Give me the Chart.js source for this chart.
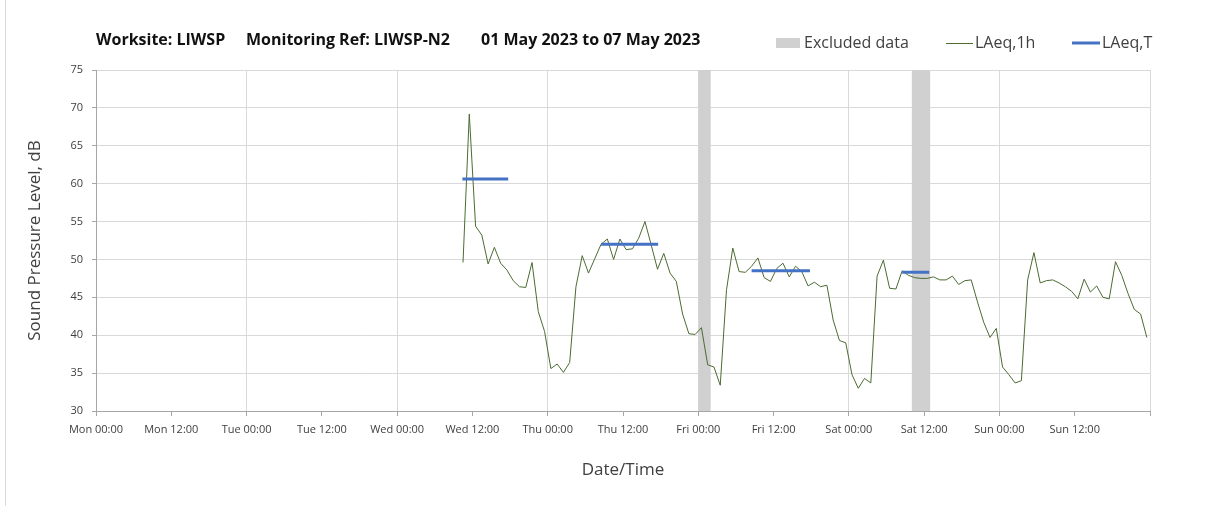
<!DOCTYPE html>
<html>
<head>
<meta charset="utf-8">
<script src="https://cdn.jsdelivr.net/npm/chart.js@4/dist/chart.umd.min.js"></script>
<style>
  html, body { margin: 0; padding: 0; background: #ffffff; }
  #wrap { position: relative; width: 1208px; height: 506px; }
  #edge { position: absolute; left: 5px; top: 0; width: 1px; height: 506px; background: #d9d9d9; }
  canvas { position: absolute; left: 0; top: 0; }
</style>
</head>
<body>
<div id="wrap">
  <canvas id="c" width="1208" height="506"></canvas>
  <div id="edge"></div>
</div>
<script>
// ---- Data ----
const titleParts = ['Worksite: LIWSP', 'Monitoring Ref: LIWSP-N2', '01 May 2023 to 07 May 2023'];
const xTickLabels = ['Mon 00:00', 'Mon 12:00', 'Tue 00:00', 'Tue 12:00', 'Wed 00:00', 'Wed 12:00',
  'Thu 00:00', 'Thu 12:00', 'Fri 00:00', 'Fri 12:00', 'Sat 00:00', 'Sat 12:00', 'Sun 00:00', 'Sun 12:00'];
const xMinHour = 0;
const xMaxHour = 168;
const yMin = 30;
const yMax = 75;

// LAeq,1h hourly values (hours from Mon 00:00), first point at hour 58.5
const lAeq1hStartHour = 58.5;
const lAeq1h = [
  49.6, 69.2, 54.4, 53.2, 49.4, 51.6, 49.5, 48.6, 47.2, 46.4,
  46.3, 49.6, 43.1, 40.5, 35.6, 36.2, 35.1, 36.4, 46.4, 50.5,
  48.2, 50.1, 52.0, 52.7, 50.0, 52.7, 51.3, 51.4, 52.8, 55.0,
  51.9, 48.7, 50.8, 48.2, 47.1, 42.8, 40.2, 40.1, 41.0, 36.1,
  35.8, 33.4, 46.0, 51.5, 48.4, 48.3, 49.1, 50.2, 47.6, 47.1,
  48.8, 49.5, 47.7, 49.1, 48.4, 46.5, 47.0, 46.4, 46.6, 42.0,
  39.3, 39.0, 34.8, 33.0, 34.3, 33.7, 47.8, 49.9, 46.2, 46.1,
  48.5, 47.9, 47.6, 47.5, 47.5, 47.7, 47.3, 47.3, 47.8, 46.7,
  47.2, 47.3, 44.4, 41.7, 39.7, 40.9, 35.8, 34.8, 33.7, 34.0,
  47.3, 50.9, 46.9, 47.2, 47.3, 46.9, 46.4, 45.8, 44.8, 47.4,
  45.7, 46.5, 45.0, 44.8, 49.7, 47.9, 45.5, 43.4, 42.8, 39.7
];

// LAeq,T periods
const lAeqTStart = [58.4, 80.5, 104.5, 128.5];
const lAeqTEnd   = [65.7, 89.6, 113.8, 132.8];
const lAeqT      = [60.6, 52.0, 48.5, 48.3];

// Excluded data periods (hours)
const excludedStart = [96, 130];
const excludedEnd   = [98, 133];

// ---- Build datasets ----
const greenData = lAeq1h.map((v, i) => ({ x: lAeq1hStartHour + i, y: v }));
const blueData = [];
lAeqT.forEach((v, i) => {
  blueData.push({ x: lAeqTStart[i], y: v });
  blueData.push({ x: lAeqTEnd[i], y: v });
  blueData.push({ x: lAeqTEnd[i], y: null });
});

const GREEN = '#4b6b32';
const BLUE = '#4472c4';
const GREY = '#d0d0d0';

const datasets = [
  {
    label: 'LAeq,T', data: blueData, borderColor: BLUE, backgroundColor: BLUE,
    borderWidth: 3, pointRadius: 0, spanGaps: false, order: 0, borderCapStyle: 'butt'
  },
  {
    label: 'LAeq,1h', data: greenData, borderColor: GREEN, backgroundColor: GREEN,
    borderWidth: 1, pointRadius: 0, tension: 0, order: 1
  }
];
excludedStart.forEach((s, i) => {
  datasets.push({
    label: 'Excluded data',
    data: [{ x: s, y: yMax }, { x: excludedEnd[i], y: yMax }],
    borderWidth: 0, borderColor: 'rgba(0,0,0,0)', backgroundColor: GREY,
    pointRadius: 0, fill: 'start', order: 2
  });
});

const FONT = '"Open Sans", "DejaVu Sans", sans-serif';

const overlay = {
  id: 'overlay',
  afterDraw(chart) {
    const ctx = chart.ctx;
    ctx.save();
    ctx.textBaseline = 'middle';
    ctx.textAlign = 'left';
    // Title
    ctx.font = 'bold 16px ' + FONT;
    ctx.fillStyle = '#111111';
    const tx = [96, 246, 481];
    titleParts.forEach((t, i) => ctx.fillText(t, tx[i], 40));
    // Legend
    const ly = 43;
    ctx.font = '16px ' + FONT;
    const ex = chart.data.datasets.find(d => d.label === 'Excluded data');
    const g = chart.data.datasets.find(d => d.label === 'LAeq,1h');
    const b = chart.data.datasets.find(d => d.label === 'LAeq,T');
    ctx.fillStyle = ex.backgroundColor;
    ctx.fillRect(776, ly - 5, 24, 10);
    ctx.fillStyle = '#404040';
    ctx.fillText(ex.label, 804, ly);
    ctx.strokeStyle = g.borderColor; ctx.lineWidth = g.borderWidth;
    ctx.beginPath(); ctx.moveTo(946, ly + 0.5); ctx.lineTo(973, ly + 0.5); ctx.stroke();
    ctx.fillText(g.label, 975, ly);
    ctx.strokeStyle = b.borderColor; ctx.lineWidth = b.borderWidth;
    ctx.beginPath(); ctx.moveTo(1072, ly); ctx.lineTo(1100, ly); ctx.stroke();
    ctx.fillText(b.label, 1102, ly);
    ctx.restore();
  }
};

new Chart(document.getElementById('c'), {
  type: 'line',
  data: { datasets },
  plugins: [overlay],
  options: {
    responsive: false,
    animation: false,
    devicePixelRatio: 1,
    layout: { padding: { left: 0, right: 58, top: 70, bottom: 0 } },
    plugins: {
      legend: { display: false },
      title: { display: false },
      tooltip: { enabled: false }
    },
    scales: {
      x: {
        type: 'linear',
        min: xMinHour,
        max: xMaxHour,
        afterFit: (s) => { s.height = 95; },
        afterBuildTicks: (s) => {
          const t = [];
          for (let v = xMinHour; v <= xMaxHour; v += 12) t.push({ value: v });
          s.ticks = t;
        },
        ticks: {
          autoSkip: false,
          maxRotation: 0,
          padding: 7,
          color: '#404040',
          font: { family: FONT, size: 11 },
          callback: (v) => xTickLabels[v / 12] ?? ''
        },
        grid: {
          color: (c) => (c.tick && c.tick.value % 24 === 0) ? '#d9d9d9' : 'rgba(0,0,0,0)',
          tickColor: '#a6a6a6',
          tickLength: 5,
          drawTicks: true
        },
        border: { color: '#a6a6a6', width: 1 },
        title: {
          display: true, text: 'Date/Time', color: '#404040',
          font: { family: FONT, size: 17 }, padding: { top: 0, bottom: 26 }
        }
      },
      y: {
        min: yMin,
        max: yMax,
        afterFit: (s) => { s.width = 96; },
        ticks: {
          stepSize: 5,
          padding: 9,
          color: '#404040',
          font: { family: FONT, size: 11 }
        },
        grid: { color: '#d9d9d9', tickColor: '#a6a6a6', tickLength: 4 },
        border: { color: '#a6a6a6', width: 1 },
        title: {
          display: true, text: 'Sound Pressure Level, dB', color: '#404040',
          font: { family: FONT, size: 17 }, padding: { top: 25, bottom: 0 }
        }
      }
    }
  }
});
</script>
</body>
</html>
